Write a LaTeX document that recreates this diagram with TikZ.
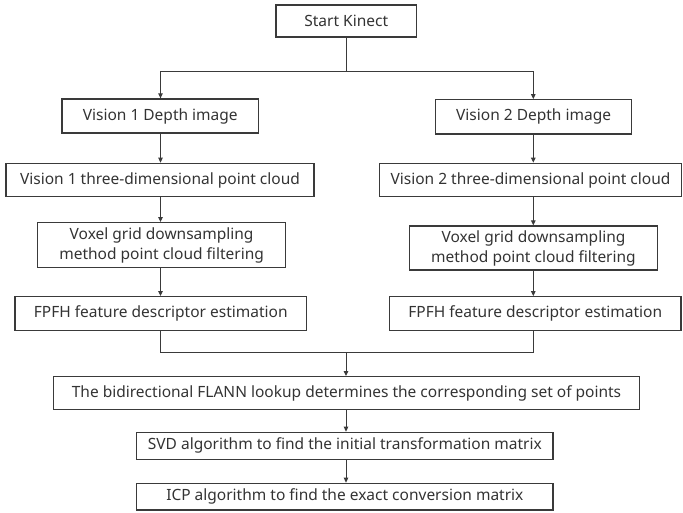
\documentclass[tikz,border=0pt]{standalone}
\usepackage{fontspec}
\setmainfont{Noto Sans}
\usetikzlibrary{arrows.meta}
\definecolor{ink}{HTML}{333333}
\definecolor{edge}{HTML}{3A3A3A}
\tikzset{
  stepbox/.style={draw=edge, line width=1.3pt, inner sep=0pt, text=ink,
    font=\fontsize{15.5}{20}\selectfont, align=center},
  flow/.style={draw=edge, line width=1pt, -{Triangle[length=5pt,width=4.5pt]}},
  link/.style={draw=edge, line width=1pt}
}
\begin{document}
\begin{tikzpicture}[x=1pt,y=-1pt]
\useasboundingbox (0,0) rectangle (683,512);

% process boxes
\node[stepbox, minimum width=140.5pt, minimum height=32pt] (start) at (346.25,21) {Start Kinect};
\node[stepbox, minimum width=196.5pt, minimum height=34pt] (d1) at (160.25,116) {Vision 1 Depth image};
\node[stepbox, minimum width=196.2pt, minimum height=34.3pt] (d2) at (533.6,116.85) {Vision 2 Depth image};
\node[stepbox, minimum width=308pt, minimum height=33.4pt] (p1) at (160,180) {Vision 1 three-dimensional point cloud};
\node[stepbox, minimum width=302pt, minimum height=33.4pt] (p2) at (530.5,180) {Vision 2 three-dimensional point cloud};
\node[stepbox, minimum width=247.8pt, minimum height=45pt] (v1) at (161.6,245.2) {Voxel grid downsampling\\method point cloud filtering};
\node[stepbox, minimum width=247.7pt, minimum height=44pt] (v2) at (533.45,248) {Voxel grid downsampling\\method point cloud filtering};
\node[stepbox, minimum width=291.5pt, minimum height=33.6pt] (f1) at (160.75,313.5) {FPFH feature descriptor estimation};
\node[stepbox, minimum width=291.5pt, minimum height=33.6pt] (f2) at (535.25,313.5) {FPFH feature descriptor estimation};
\node[stepbox, minimum width=586.4pt, minimum height=32.6pt] (flann) at (346.5,393) {The bidirectional FLANN lookup determines the corresponding set of points};
\node[stepbox, minimum width=416.3pt, minimum height=27pt] (svd) at (344.85,445.8) {SVD algorithm to find the initial transformation matrix};
\node[stepbox, minimum width=416.3pt, minimum height=26.7pt] (icp) at (344.85,496.65) {ICP algorithm to find the exact conversion matrix};

% column axes and junction levels
\coordinate (colL) at (160.5,0);
\coordinate (colR) at (533.3,0);
\coordinate (split) at (346,71);
\coordinate (merge) at (346,352.7);

% split from the start box
\draw[link] (start.south -| split) -- (split);
\draw[flow] (split) -| (colL |- d1.north);
\draw[flow] (split) -| (colR |- d2.north);

% left column
\draw[flow] (colL |- d1.south) -- (colL |- p1.north);
\draw[flow] (colL |- p1.south) -- (colL |- v1.north);
\draw[flow] (colL |- v1.south) -- (colL |- f1.north);

% right column
\draw[flow] (colR |- d2.south) -- (colR |- p2.north);
\draw[flow] (colR |- p2.south) -- (colR |- v2.north);
\draw[flow] (colR |- v2.south) -- (colR |- f2.north);

% merge into the matching stage
\draw[link] (colL |- f1.south) |- (merge);
\draw[link] (colR |- f2.south) |- (merge);
\draw[flow] (merge) -- (merge |- flann.north);

% final stages
\draw[flow] (flann.south -| merge) -- (merge |- svd.north);
\draw[flow] (svd.south -| merge) -- (merge |- icp.north);
\end{tikzpicture}
\end{document}
